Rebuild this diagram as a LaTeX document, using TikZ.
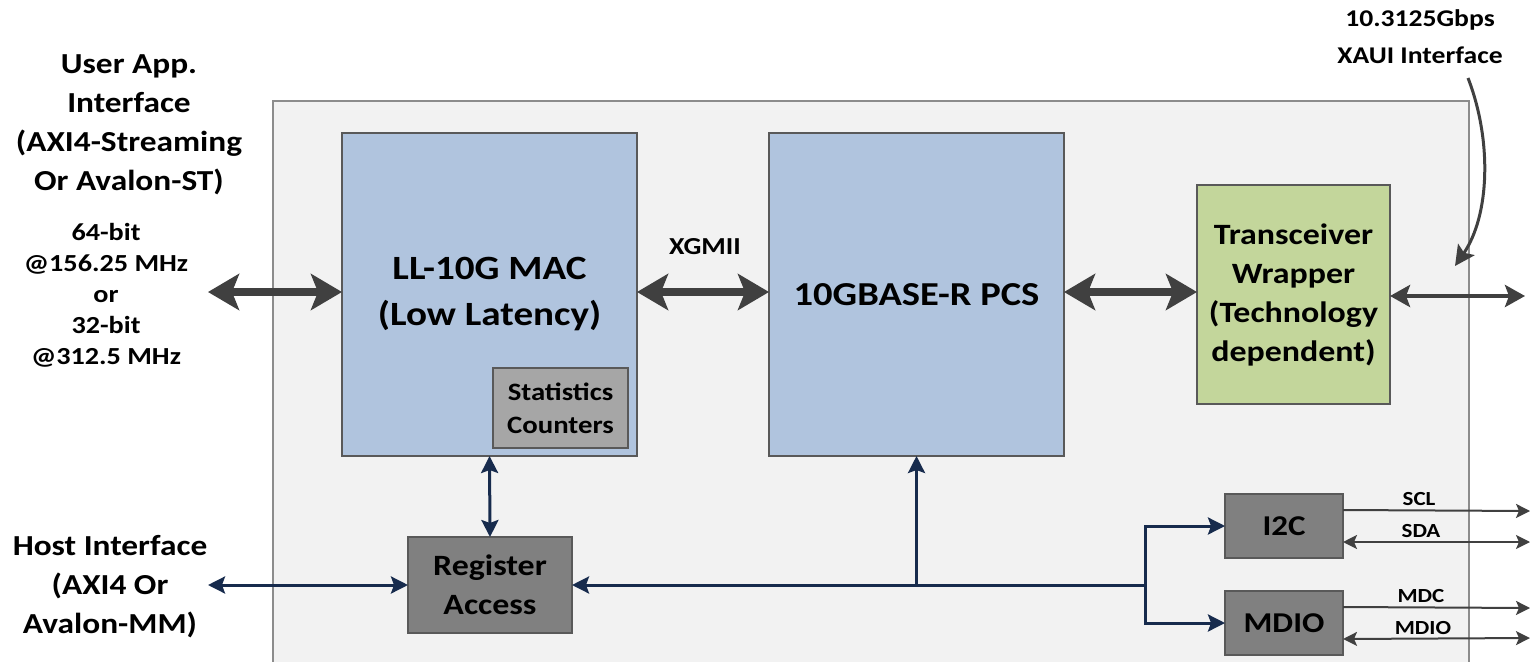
\documentclass[tikz,border=0pt]{standalone}
\usepackage{fontspec}
\setmainfont{Carlito}[FakeStretch=1.15]
\usetikzlibrary{arrows.meta,calc}
\definecolor{outerfill}{HTML}{F2F2F2}
\definecolor{outerdraw}{HTML}{8C8C8C}
\definecolor{bluefill}{HTML}{B0C4DE}
\definecolor{greenfill}{HTML}{C3D69B}
\definecolor{darkbox}{HTML}{808080}
\definecolor{statbox}{HTML}{A6A6A6}
\definecolor{boxdraw}{HTML}{595959}
\definecolor{arrgray}{HTML}{404040}
\definecolor{navy}{HTML}{172B4D}
\tikzset{
  blk/.style={draw=boxdraw, line width=1.3pt, outer sep=0pt, inner sep=0pt, align=center, font=\bfseries},
  bigarrow/.style={draw=arrgray, line width=8pt, {Stealth[length=31pt,width=36pt,inset=7pt]}-{Stealth[length=31pt,width=36pt,inset=7pt]}},
  midarrow/.style={draw=arrgray, line width=4pt, {Stealth[length=20pt,width=22pt,inset=4pt]}-{Stealth[length=20pt,width=22pt,inset=4pt]}},
  navyarrow/.style={draw=navy, line width=3pt},
  navytip/.style={-{Stealth[length=17pt,width=17pt,inset=3pt]}},
  navytips/.style={{Stealth[length=17pt,width=17pt,inset=3pt]}-{Stealth[length=17pt,width=17pt,inset=3pt]}},
  thinarrow/.style={draw=arrgray, line width=2pt, -{Stealth[length=14pt,width=14pt,inset=3pt]}},
  thinarrows/.style={draw=arrgray, line width=2pt, {Stealth[length=14pt,width=14pt,inset=3pt]}-{Stealth[length=14pt,width=14pt,inset=3pt]}},
  lbl/.style={align=center, font=\bfseries, inner sep=0pt},
}
\begin{document}
\begin{tikzpicture}[x=1pt,y=-1pt]
\useasboundingbox (0,0) rectangle (1530,661);
% outer container
\path[fill=outerfill, draw=outerdraw, line width=1.5pt] (273,101) rectangle (1469,680);
% blocks
\node[blk, fill=bluefill, minimum width=295pt, minimum height=323pt, font=\bfseries\fontsize{34}{46}\selectfont] (mac) at (489.5,294.5) {LL-10G MAC\\(Low Latency)};
\node[blk, fill=statbox, minimum width=135pt, minimum height=80pt, font=\bfseries\fontsize{25}{33}\selectfont] (stats) at (560.5,408) {Statistics\\Counters};
\node[blk, fill=bluefill, minimum width=295pt, minimum height=323pt, font=\bfseries\fontsize{33.5}{46}\selectfont] (pcs) at (916.5,294.5) {10GBASE-R PCS};
\node[blk, fill=greenfill, minimum width=193pt, minimum height=219pt, font=\bfseries\fontsize{29.5}{39}\selectfont] (xcvr) at (1293.5,294.5) {Transceiver\\Wrapper\\(Technology\\dependent)};
\node[blk, fill=darkbox, minimum width=164pt, minimum height=96pt, font=\bfseries\fontsize{29.5}{39}\selectfont] (reg) at (490,585) {Register\\Access};
\node[blk, fill=darkbox, minimum width=118pt, minimum height=64pt, font=\bfseries\fontsize{28.7}{34}\selectfont] (i2c) at (1284,526) {I2C};
\node[blk, fill=darkbox, minimum width=118pt, minimum height=64pt, font=\bfseries\fontsize{28.7}{34}\selectfont] (mdio) at (1284,623) {MDIO};
% outside labels
\node[lbl, font=\bfseries\fontsize{29}{39}\selectfont] (user) at (129,125) {User App.\\Interface\\(AXI4-Streaming\\Or Avalon-ST)};
\node[lbl, font=\bfseries\fontsize{24.5}{31}\selectfont] (rate) at (106,295) {64-bit\\@156.25 MHz\\or\\32-bit\\@312.5 MHz};
\node[lbl, font=\bfseries\fontsize{29}{39}\selectfont] (host) at (110,587) {Host Interface\\(AXI4 Or\\Avalon-MM)};
\node[lbl, font=\bfseries\fontsize{24}{37}\selectfont] (xaui) at (1420,37) {10.3125Gbps\\XAUI Interface};
\node[lbl, font=\bfseries\fontsize{24.4}{26}\selectfont] (xgmii) at (705,247) {XGMII};
% coordinates
\coordinate (userL) at (208,292);
\coordinate (xauiR) at (1525,296);
\coordinate (hostL) at (208,585);
\coordinate (busR) at (1145,585);
\coordinate (busJ) at (pcs.south |- busR);
\coordinate (curveS) at (1468,78);
\coordinate (curveE) at (1455,266);
\coordinate (sclR) at (1530,511);
\coordinate (sdaR) at (1530,542);
\coordinate (mdcR) at (1530,608);
\coordinate (mdioR) at (1530,638);
% thick data arrows
\draw[bigarrow] (userL) -- (mac.west |- userL);
\draw[bigarrow] (mac.east |- userL) -- (pcs.west |- userL);
\draw[bigarrow] (pcs.east |- userL) -- (xcvr.west |- userL);
\draw[midarrow] (xcvr.east |- xauiR) -- (xauiR);
\draw[draw=arrgray, line width=3pt, -{Stealth[length=20pt,width=20pt,inset=4pt]}] (curveS) .. controls (1492,140) and (1490,215) .. (curveE);
% navy control arrows
\draw[navyarrow, navytips] (mac.south) -- (reg.north);
\draw[navyarrow, navytips] (hostL) -- (reg.west);
\draw[navyarrow, navytip] (busR) -- (reg.east);
\draw[navyarrow, navytip] (busJ) -- (pcs.south);
\draw[navyarrow, navytip] (busR) |- (i2c.west);
\draw[navyarrow, navytip] (busR) |- (mdio.west);
% serial lines
\draw[thinarrow] ([yshift=16pt]i2c.east) -- (sclR);
\draw[thinarrows] ([yshift=-16pt]i2c.east) -- (sdaR);
\draw[thinarrow] ([yshift=16pt]mdio.east) -- (mdcR);
\draw[thinarrows] ([yshift=-16pt]mdio.east) -- (mdioR);
\node[lbl, font=\bfseries\fontsize{20}{22}\selectfont] (scl) at (1419,499) {SCL};
\node[lbl, font=\bfseries\fontsize{20}{22}\selectfont] (sda) at (1421,531) {SDA};
\node[lbl, font=\bfseries\fontsize{20}{22}\selectfont] (mdc) at (1421,596) {MDC};
\node[lbl, font=\bfseries\fontsize{20}{22}\selectfont] (mdiol) at (1423,628) {MDIO};
\end{tikzpicture}
\end{document}
